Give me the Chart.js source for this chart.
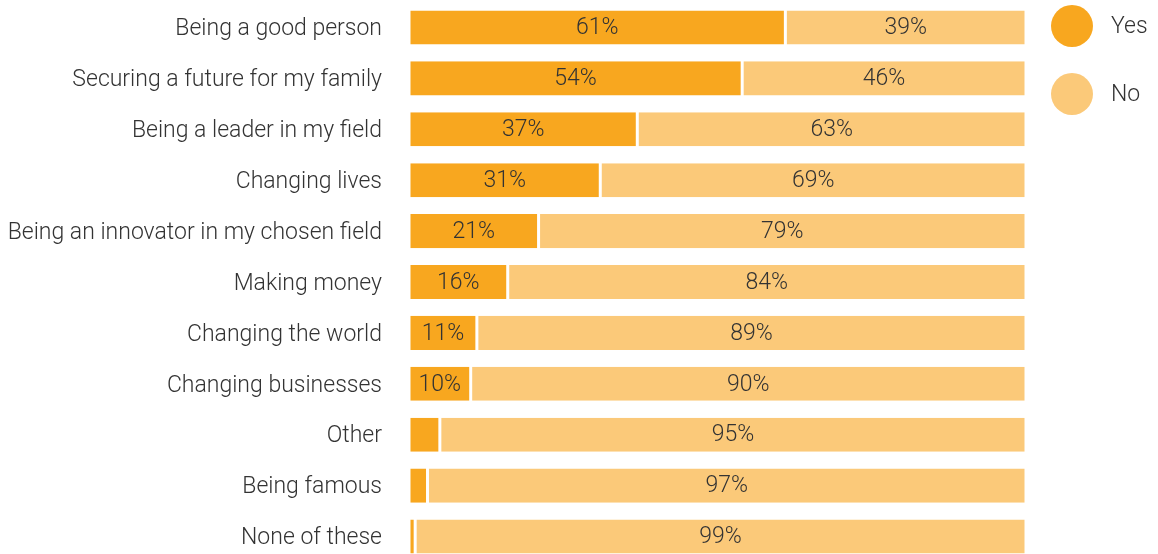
<!DOCTYPE html>
<html>
<head>
<meta charset="utf-8">
<script src="https://cdn.jsdelivr.net/npm/chart.js@4.4.1/dist/chart.umd.min.js"></script>
<style>
  html, body { margin: 0; padding: 0; background: #fff; overflow: hidden; }
  #wrap { position: relative; width: 1158px; height: 562px; }
  #legend { position: absolute; left: 1051px; top: 5px; font-family: Roboto, sans-serif; font-weight: 300; font-size: 23px; color: #333; }
  .item { position: relative; height: 68px; }
  .dot { position: absolute; left: 0; top: 0; width: 42px; height: 42px; border-radius: 50%; }
  .lbl { position: absolute; left: 60px; top: 7px; }
</style>
</head>
<body>
<div id="wrap">
  <canvas id="bars" width="1158" height="562"></canvas>
  <div id="legend"></div>
</div>
<script>
const categories = [
  'Being a good person',
  'Securing a future for my family',
  'Being a leader in my field',
  'Changing lives',
  'Being an innovator in my chosen field',
  'Making money',
  'Changing the world',
  'Changing businesses',
  'Other',
  'Being famous',
  'None of these'
];
const yesValues = [61, 54, 37, 31, 21, 16, 11, 10, 5, 3, 1];
const noValues = [39, 46, 63, 69, 79, 84, 89, 90, 95, 97, 99];
const seriesNames = ['Yes', 'No'];
const seriesColors = ['#F8A71F', '#FBC979'];

const fontFamily = 'Roboto, "Open Sans", sans-serif';

// percent text in the middle of each segment, skipped when the segment is tiny
const barLabels = {
  id: 'barLabels',
  afterDatasetsDraw(chart) {
    const { ctx } = chart;
    ctx.save();
    ctx.font = '300 23px ' + fontFamily;
    ctx.fillStyle = '#333';
    ctx.textAlign = 'center';
    ctx.textBaseline = 'middle';
    chart.data.datasets.forEach((ds, i) => {
      const meta = chart.getDatasetMeta(i);
      meta.data.forEach((bar, j) => {
        const v = ds.data[j];
        if (v < 10) return;
        const x = (bar.base + bar.x) / 2;
        ctx.fillText(v + '%', x, bar.y + 1);
      });
    });
    ctx.restore();
  }
};

const datasets = seriesNames.map((name, i) => ({
  label: name,
  data: i === 0 ? yesValues : noValues,
  backgroundColor: seriesColors[i],
  borderColor: '#fff',
  borderWidth: { left: 1.5, right: 1.5, top: 0, bottom: 0 },
  borderSkipped: false,
  barPercentage: 0.67,
  categoryPercentage: 1
}));

new Chart(document.getElementById('bars'), {
  type: 'bar',
  data: { labels: categories, datasets },
  options: {
    indexAxis: 'y',
    responsive: false,
    animation: false,
    layout: { padding: { top: 2, right: 132, bottom: 0, left: 0 } },
    plugins: {
      legend: { display: false },
      tooltip: { enabled: false }
    },
    scales: {
      x: {
        stacked: true,
        min: 0,
        max: 100,
        display: false
      },
      y: {
        stacked: true,
        grid: { display: false },
        border: { display: false },
        ticks: {
          padding: 19,
          labelOffset: 2,
          color: '#333',
          font: { family: fontFamily, size: 23, weight: '300' }
        },
        afterFit(scale) {
          // fixed label column, and no extra room above/below the rows
          scale.width = 409;
          scale.paddingTop = 0;
          scale.paddingBottom = 0;
        }
      }
    }
  },
  plugins: [barLabels]
});

const legend = document.getElementById('legend');
seriesNames.forEach((name, i) => {
  const item = document.createElement('div');
  item.className = 'item';
  const dot = document.createElement('div');
  dot.className = 'dot';
  dot.style.background = seriesColors[i];
  const lbl = document.createElement('span');
  lbl.className = 'lbl';
  lbl.textContent = name;
  item.appendChild(dot);
  item.appendChild(lbl);
  legend.appendChild(item);
});
</script>
</body>
</html>
